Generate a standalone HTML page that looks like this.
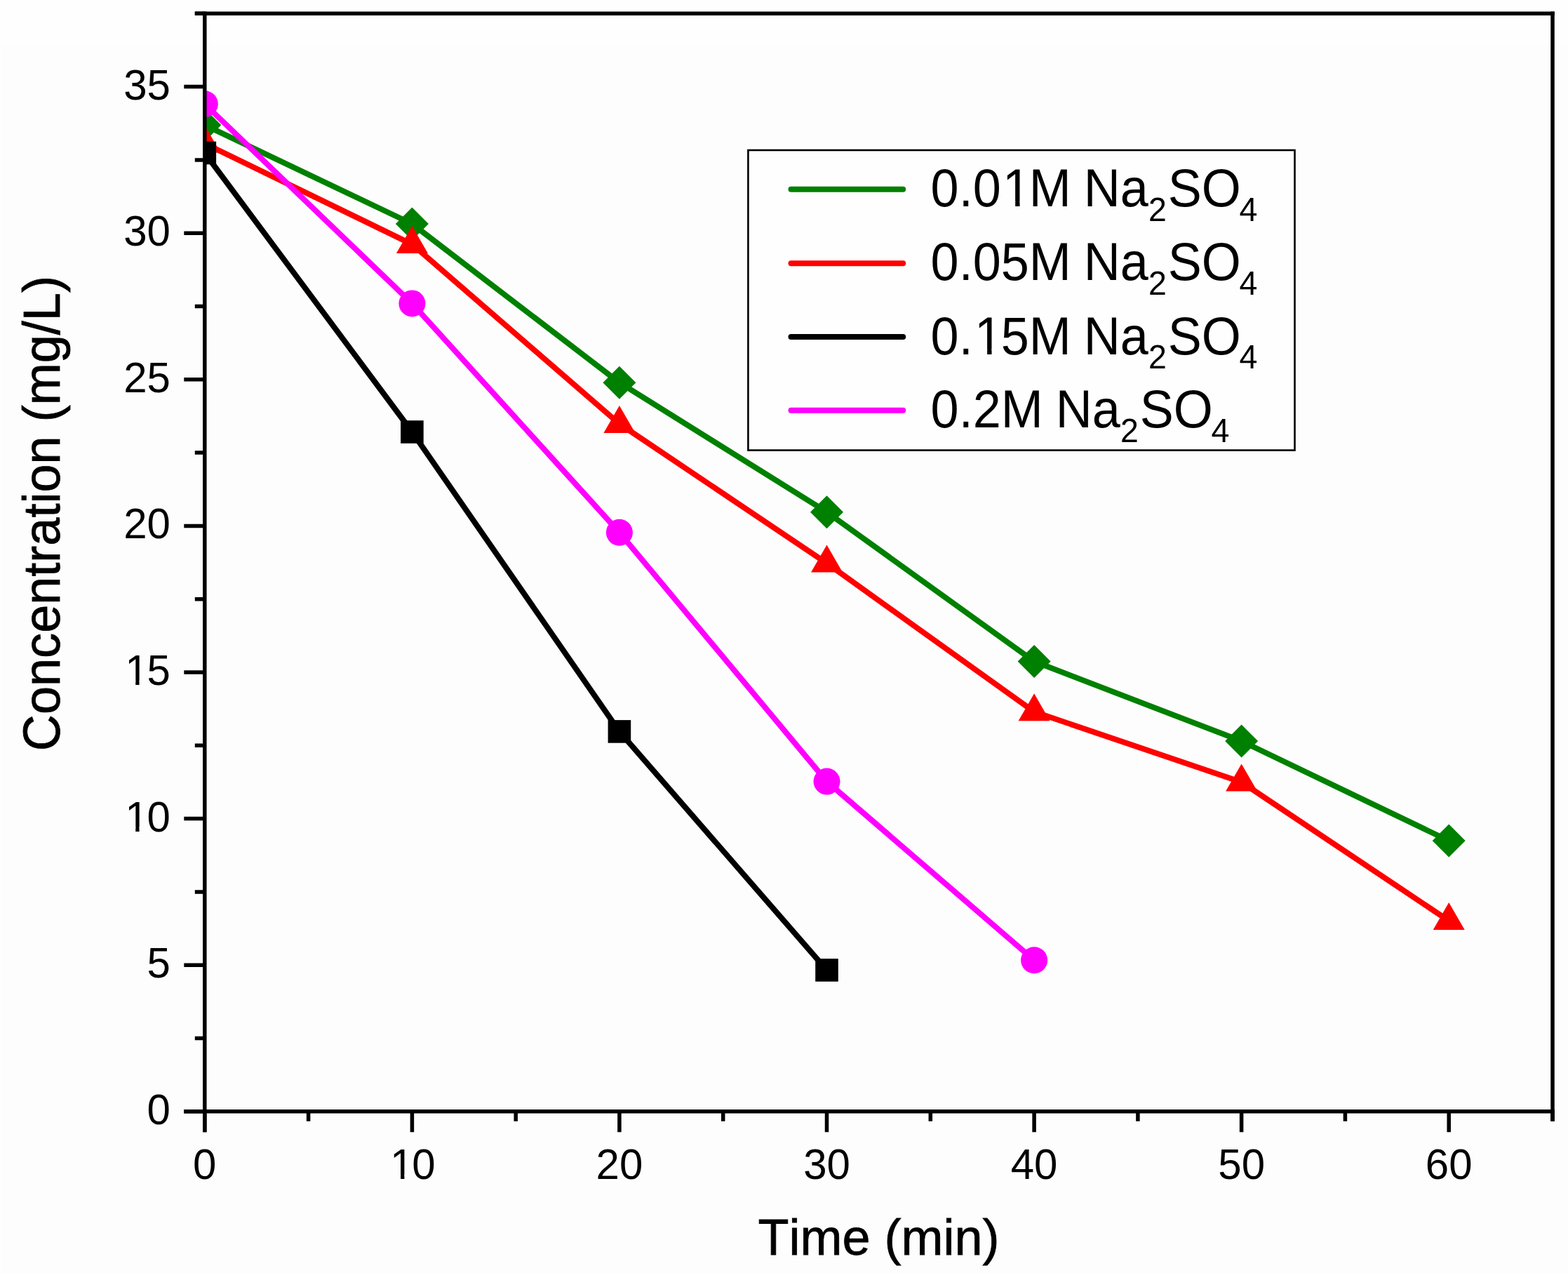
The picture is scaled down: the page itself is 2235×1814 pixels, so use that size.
<!DOCTYPE html>
<html><head><meta charset="utf-8"><title>Concentration vs Time</title>
<style>
html,body{margin:0;padding:0;background:#fff;overflow:hidden;}
svg{display:block;}
text{font-family:"Liberation Sans",Arial,sans-serif;fill:#000;font-kerning:none;}
</style></head><body>
<svg width="2235" height="1814" viewBox="0 0 2235 1814">
<defs><clipPath id="pa"><rect x="291.8" y="19.3" width="1921.2" height="1564.5"/></clipPath></defs>
<rect width="2235" height="1814" fill="#fefefe"/>
<rect x="3" y="62" width="2232" height="1752" fill="#fdfdfd"/>
<g clip-path="url(#pa)">
<polyline points="291.8,178.2 587.4,319.0 882.9,545.2 1178.5,729.7 1474.1,942.6 1769.6,1056.1 2065.2,1198.0" fill="none" stroke="#008000" stroke-width="8" stroke-linejoin="round"/>
<path d="M291.8 154.7L315.3 178.2L291.8 201.7L268.3 178.2Z" fill="#008000"/>
<path d="M587.4 295.5L610.9 319.0L587.4 342.5L563.9 319.0Z" fill="#008000"/>
<path d="M882.9 521.7L906.4 545.2L882.9 568.7L859.4 545.2Z" fill="#008000"/>
<path d="M1178.5 706.2L1202.0 729.7L1178.5 753.2L1155.0 729.7Z" fill="#008000"/>
<path d="M1474.1 919.1L1497.6 942.6L1474.1 966.1L1450.6 942.6Z" fill="#008000"/>
<path d="M1769.6 1032.6L1793.1 1056.1L1769.6 1079.6L1746.1 1056.1Z" fill="#008000"/>
<path d="M2065.2 1174.5L2088.7 1198.0L2065.2 1221.5L2041.7 1198.0Z" fill="#008000"/>
<polyline points="291.8,204.5 587.4,348.1 882.9,603.9 1178.5,802.6 1474.1,1014.3 1769.6,1114.5 2065.2,1312.1" fill="none" stroke="#ff0000" stroke-width="8" stroke-linejoin="round"/>
<path d="M291.8 178.5L314.3 217.5L269.3 217.5Z" fill="#ff0000"/>
<path d="M587.4 322.1L609.9 361.1L564.9 361.1Z" fill="#ff0000"/>
<path d="M882.9 577.9L905.5 616.9L860.4 616.9Z" fill="#ff0000"/>
<path d="M1178.5 776.6L1201.0 815.6L1156.0 815.6Z" fill="#ff0000"/>
<path d="M1474.1 988.3L1496.6 1027.3L1451.6 1027.3Z" fill="#ff0000"/>
<path d="M1769.6 1088.5L1792.2 1127.5L1747.1 1127.5Z" fill="#ff0000"/>
<path d="M2065.2 1286.1L2087.7 1325.1L2042.7 1325.1Z" fill="#ff0000"/>
<polyline points="291.8,218.0 587.4,615.5 882.9,1042.4 1178.5,1382.4" fill="none" stroke="#000000" stroke-width="8" stroke-linejoin="round"/>
<rect x="275.5" y="201.7" width="32.6" height="32.6" fill="#000"/>
<rect x="571.1" y="599.2" width="32.6" height="32.6" fill="#000"/>
<rect x="866.6" y="1026.1" width="32.6" height="32.6" fill="#000"/>
<rect x="1162.2" y="1366.1" width="32.6" height="32.6" fill="#000"/>
<polyline points="291.8,148.3 587.4,432.4 882.9,758.8 1178.5,1113.6 1474.1,1368.2" fill="none" stroke="#ff00ff" stroke-width="8" stroke-linejoin="round"/>
<circle cx="291.8" cy="148.3" r="19" fill="#ff00ff"/>
<circle cx="587.4" cy="432.4" r="19" fill="#ff00ff"/>
<circle cx="882.9" cy="758.8" r="19" fill="#ff00ff"/>
<circle cx="1178.5" cy="1113.6" r="19" fill="#ff00ff"/>
<circle cx="1474.1" cy="1368.2" r="19" fill="#ff00ff"/>
</g>
<path d="M277.8 19.3H2215.8" stroke="#000" stroke-width="5.5" fill="none"/>
<path d="M291.8 16.6V1613.3" stroke="#000" stroke-width="5.5" fill="none"/>
<path d="M2213.01 16.6V1597.8" stroke="#000" stroke-width="5.5" fill="none"/>
<path d="M262.3 1583.8H2215.8" stroke="#000" stroke-width="5.5" fill="none"/>
<path d="M262.3 1583.8H291.8M277.8 1479.5H291.8M262.3 1375.2H291.8M277.8 1270.9H291.8M262.3 1166.6H291.8M277.8 1062.3H291.8M262.3 958.0H291.8M277.8 853.7H291.8M262.3 749.4H291.8M277.8 645.1H291.8M262.3 540.8H291.8M277.8 436.5H291.8M262.3 332.2H291.8M277.8 227.9H291.8M262.3 123.6H291.8M277.8 19.3H291.8M291.8 1583.8V1613.3M439.6 1583.8V1597.8M587.4 1583.8V1613.3M735.2 1583.8V1597.8M882.9 1583.8V1613.3M1030.7 1583.8V1597.8M1178.5 1583.8V1613.3M1326.3 1583.8V1597.8M1474.1 1583.8V1613.3M1621.9 1583.8V1597.8M1769.6 1583.8V1613.3M1917.4 1583.8V1597.8M2065.2 1583.8V1613.3M2213.0 1583.8V1597.8" stroke="#000" stroke-width="5.5" fill="none"/>
<text transform="translate(209.53 1601.70) scale(1 1.025)" x="0.00" font-size="60">0</text>
<text transform="translate(209.53 1393.10) scale(1 1.025)" x="0.00" font-size="60">5</text>
<text transform="translate(176.16 1184.50) scale(1 1.025)" x="1.99 33.37" font-size="60">10</text>
<text transform="translate(176.16 975.90) scale(1 1.025)" x="1.99 33.37" font-size="60">15</text>
<text transform="translate(176.16 767.30) scale(1 1.025)" x="0.00 33.37" font-size="60">20</text>
<text transform="translate(176.16 558.70) scale(1 1.025)" x="0.00 33.37" font-size="60">25</text>
<text transform="translate(176.16 350.10) scale(1 1.025)" x="0.00 33.37" font-size="60">30</text>
<text transform="translate(176.16 141.50) scale(1 1.025)" x="0.00 33.37" font-size="60">35</text>
<text transform="translate(275.12 1680.00) scale(1 1.025)" x="0.00" font-size="60">0</text>
<text transform="translate(554.00 1680.00) scale(1 1.025)" x="1.99 33.37" font-size="60">10</text>
<text transform="translate(849.57 1680.00) scale(1 1.025)" x="0.00 33.37" font-size="60">20</text>
<text transform="translate(1145.14 1680.00) scale(1 1.025)" x="0.00 33.37" font-size="60">30</text>
<text transform="translate(1440.71 1680.00) scale(1 1.025)" x="0.00 33.37" font-size="60">40</text>
<text transform="translate(1736.28 1680.00) scale(1 1.025)" x="0.00 33.37" font-size="60">50</text>
<text transform="translate(2031.85 1680.00) scale(1 1.025)" x="0.00 33.37" font-size="60">60</text>
<text transform="translate(1252.6 1788.4) scale(1 1.01)" x="0" y="0" text-anchor="middle" font-size="72" stroke="#000" stroke-width="0.8">Time (min)</text>
<text transform="translate(84.6 731.6) rotate(-90) scale(1 1.027)" x="0" y="0" text-anchor="middle" font-size="72.1" stroke="#000" stroke-width="0.8">Concentration (mg/L)</text>
<rect x="1066.4" y="214" width="779.1" height="427.6" fill="#fefefe" stroke="#000" stroke-width="2.6"/>
<path d="M1127.5 269.7H1287.2" stroke="#008000" stroke-width="8" stroke-linecap="round"/>
<text transform="translate(0 293.8) scale(1 1.05)" font-size="72"><tspan x="1326.60 1366.64 1386.65 1429.08 1466.73" y="0">0.01M </tspan><tspan x="1544.8" y="0">Na</tspan><tspan x="1636.9" y="19.71" font-size="46.5">2</tspan><tspan x="1664.7" y="0">SO</tspan><tspan x="1766.6" y="19.71" font-size="46.5">4</tspan></text>
<path d="M1127.5 375.2H1287.2" stroke="#ff0000" stroke-width="8" stroke-linecap="round"/>
<text transform="translate(0 399.3) scale(1 1.05)" font-size="72"><tspan x="1326.60 1366.64 1386.65 1426.69 1466.73" y="0">0.05M </tspan><tspan x="1544.8" y="0">Na</tspan><tspan x="1636.9" y="19.71" font-size="46.5">2</tspan><tspan x="1664.7" y="0">SO</tspan><tspan x="1766.6" y="19.71" font-size="46.5">4</tspan></text>
<path d="M1127.5 479.9H1287.2" stroke="#000000" stroke-width="8" stroke-linecap="round"/>
<text transform="translate(0 504.6) scale(1 1.05)" font-size="72"><tspan x="1326.60 1366.64 1389.04 1426.69 1466.73" y="0">0.15M </tspan><tspan x="1544.8" y="0">Na</tspan><tspan x="1636.9" y="19.71" font-size="46.5">2</tspan><tspan x="1664.7" y="0">SO</tspan><tspan x="1766.6" y="19.71" font-size="46.5">4</tspan></text>
<path d="M1127.5 584.7H1287.2" stroke="#ff00ff" stroke-width="8" stroke-linecap="round"/>
<text transform="translate(0 609.4) scale(1 1.05)" font-size="72"><tspan x="1326.60 1366.64 1386.65 1426.69" y="0">0.2M </tspan><tspan x="1504.8" y="0">Na</tspan><tspan x="1596.9" y="19.71" font-size="46.5">2</tspan><tspan x="1624.7" y="0">SO</tspan><tspan x="1726.6" y="19.71" font-size="46.5">4</tspan></text>
<rect x="181.08" y="1178.41" width="12.16" height="8.09" fill="#fdfdfd"/><rect x="198.54" y="1178.41" width="11.84" height="8.09" fill="#fdfdfd"/>
<rect x="181.08" y="969.81" width="12.16" height="8.09" fill="#fdfdfd"/><rect x="198.54" y="969.81" width="11.84" height="8.09" fill="#fdfdfd"/>
<rect x="558.92" y="1673.91" width="12.16" height="8.09" fill="#fdfdfd"/><rect x="576.38" y="1673.91" width="11.84" height="8.09" fill="#fdfdfd"/>
<rect x="1432.60" y="286.65" width="14.59" height="9.15" fill="#fefefe"/><rect x="1453.55" y="286.65" width="14.20" height="9.15" fill="#fefefe"/>
<rect x="1392.55" y="497.45" width="14.59" height="9.15" fill="#fefefe"/><rect x="1413.51" y="497.45" width="14.20" height="9.15" fill="#fefefe"/>
</svg>
</body></html>
